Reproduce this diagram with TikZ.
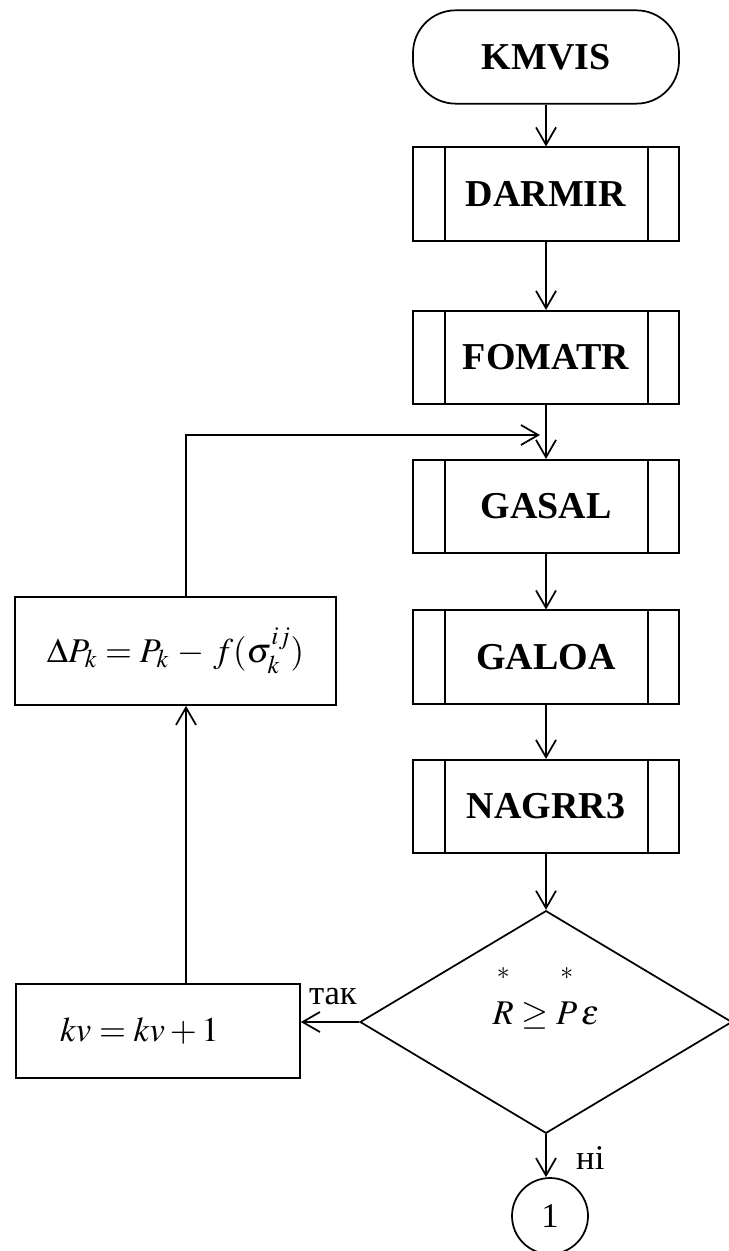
\documentclass[tikz,border=0pt]{standalone}
\usepackage{amsmath}
\usepackage{mathptmx}
\usepackage[no-math]{fontspec}
\setmainfont{Liberation Serif}
\usetikzlibrary{shapes.geometric,arrows.meta}

\newcommand{\boxfont}{\fontsize{28.5}{32}\selectfont\bfseries}
\newcommand{\mathfnt}{\fontsize{26}{30}\selectfont}
\newcommand{\lblfont}{\fontsize{26}{30}\selectfont}
\newcommand{\starred}[1]{\overset{*}{\rule{0pt}{1.1em}#1}}

\tikzset{
  blk/.style={draw, line width=1.3pt, inner sep=0pt},
  termbox/.style={blk, rounded corners=32pt, minimum width=199.5pt,
    minimum height=70pt, font=\boxfont},
  subbox/.style={blk, minimum width=199.5pt, minimum height=70pt, font=\boxfont},
  opbox/.style={blk, font=\mathfnt},
  decbox/.style={blk, diamond, minimum width=279pt, minimum height=167pt, font=\mathfnt},
  connbox/.style={blk, circle, minimum size=57pt, font=\lblfont},
  arr/.style={line width=1.3pt, -{Straight Barb[length=13pt,width=15pt,line width=1.3pt]}},
  lbl/.style={font=\lblfont, inner sep=0pt}
}

\begin{document}
\begin{tikzpicture}[x=0.75pt, y=-0.75pt]
  \useasboundingbox (0,0) rectangle (728,1251);
  % main column
  \node[termbox] (kmvis)  at (546,57)    {KMVIS};
  \node[subbox]  (darmir) at (546,194)   {DARMIR};
  \node[subbox]  (fomatr) at (546,357.5) {FOMATR};
  \node[subbox]  (gasal)  at (546,506.5) {GASAL};
  \node[subbox]  (galoa)  at (546,657)   {GALOA};
  \node[subbox]  (nagrr)  at (546,806.5) {NAGRR3};
  \node[decbox]  (test)   at (546,1022)
    {\smash{\raisebox{-2pt}{$\starred{R} \geq \starred{P}\,\varepsilon$}}};
  \node[connbox] (out)    at (550,1216)  {1};
  % left branch
  \node[opbox, minimum width=241pt, minimum height=81pt] (dp) at (175.5,651)
    {$\Delta P_{k} = P_{k} \,-\, f(\sigma_k^{ij})$};
  \node[opbox, minimum width=213pt, minimum height=70.5pt, text width=147pt,
    align=left] (kv) at (158,1031) {$kv = kv + 1$};
  \coordinate (turn) at (186,435);
  \coordinate (join) at (540,435);
  % side bars of the subroutine boxes
  \foreach \n in {darmir,fomatr,gasal,galoa,nagrr}
    \draw[line width=1.3pt]
      ([xshift=24.5pt]\n.north west) -- ([xshift=24.5pt]\n.south west)
      ([xshift=-24pt]\n.north east) -- ([xshift=-24pt]\n.south east);
  % connectors
  \draw[arr] (kmvis) -- (darmir);
  \draw[arr] (darmir) -- (fomatr);
  \draw[arr] (fomatr) -- (gasal);
  \draw[arr] (gasal) -- (galoa);
  \draw[arr] (galoa) -- (nagrr);
  \draw[arr] (nagrr) -- (test);
  \draw[arr] (test.south) -- (out.north -| test.south)
    node[lbl, pos=0.55, right=22pt] {ні};
  \draw[arr] (test.west) -- (test.west -| kv.east)
    node[lbl, pos=0.45, above=12pt] {так};
  \draw[arr] (kv.north -| turn) -- (dp.south -| turn);
  \draw[arr] (dp.north -| turn) -- (turn) -- (join);
\end{tikzpicture}
\end{document}
